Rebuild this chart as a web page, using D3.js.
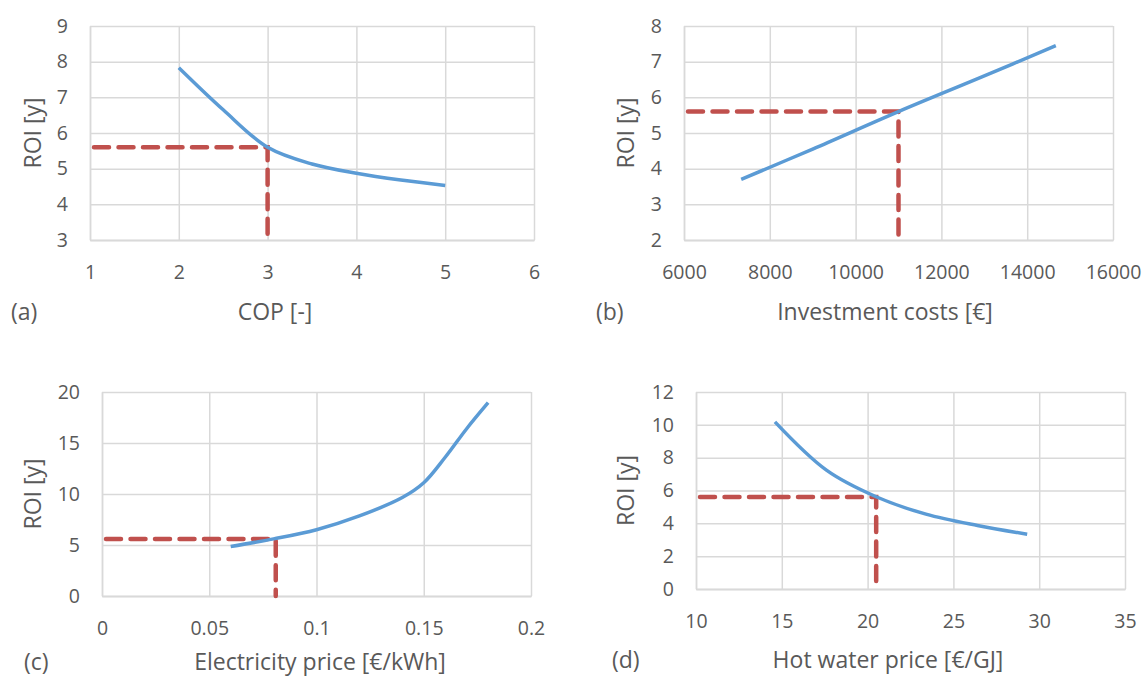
<!DOCTYPE html>
<html>
<head>
<meta charset="utf-8">
<script src="https://cdn.jsdelivr.net/npm/d3@7"></script>
<style>
body { margin: 0; background: #ffffff; }
text { font-family: "Open Sans", sans-serif; fill: #595959; }
</style>
</head>
<body>
<script>
// values
var copValues = [2, 2.5, 3, 3.5, 4, 4.5, 5];
var copRoi = [7.83, 6.65, 5.6, 5.13, 4.87, 4.68, 4.53];

var investValues = [7333, 9000, 11000, 13000, 14667];
var investRoi = [3.7, 4.55, 5.6, 6.6, 7.45];

var elecValues = [0.06, 0.08, 0.1, 0.12, 0.14, 0.15, 0.16, 0.17, 0.18];
var elecRoi = [4.85, 5.6, 6.5, 7.85, 9.65, 11.1, 13.6, 16.4, 18.95];

var waterValues = [14.6, 17.6, 20.5, 23.4, 26.4, 29.3];
var waterRoi = [10.18, 7.24, 5.62, 4.56, 3.87, 3.34];

var refRoi = 5.6;
var refCop = 3;
var refInvest = 11000;
var refElec = 0.081;
var refWater = 20.5;

var copTicks = [1, 2, 3, 4, 5, 6];
var copRoiTicks = [3, 4, 5, 6, 7, 8, 9];
var investTicks = [6000, 8000, 10000, 12000, 14000, 16000];
var investRoiTicks = [2, 3, 4, 5, 6, 7, 8];
var elecTicks = [0, 0.05, 0.1, 0.15, 0.2];
var elecRoiTicks = [0, 5, 10, 15, 20];
var waterTicks = [10, 15, 20, 25, 30, 35];
var waterRoiTicks = [0, 2, 4, 6, 8, 10, 12];

var svg = d3.select("body").append("svg")
    .attr("width", 1146)
    .attr("height", 677);

var drawPanel = function(p)
{
    var box = p.box;
    var x = d3.scaleLinear()
        .domain([p.xTicks[0], p.xTicks[p.xTicks.length - 1]])
        .range([box.x0, box.x1]);
    var y = d3.scaleLinear()
        .domain([p.yTicks[0], p.yTicks[p.yTicks.length - 1]])
        .range([box.y1, box.y0]);

    var g = svg.append("g");

    var xAxis = g.append("g")
        .attr("transform", "translate(0," + box.y1 + ")")
        .call(d3.axisBottom(x)
            .tickValues(p.xTicks)
            .tickSize(-(box.y1 - box.y0))
            .tickSizeOuter(0)
            .tickFormat(function(d){ return d; }));

    var yAxis = g.append("g")
        .attr("transform", "translate(" + box.x0 + ",0)")
        .call(d3.axisLeft(y)
            .tickValues(p.yTicks)
            .tickSize(-(box.x1 - box.x0))
            .tickSizeOuter(0)
            .tickPadding(22)
            .tickFormat(function(d){ return d; }));

    g.selectAll(".tick line").attr("stroke", "#d9d9d9").attr("stroke-width", 1.5);
    yAxis.select(".domain").attr("stroke", "#d9d9d9").attr("stroke-width", 1.5);
    xAxis.select(".domain").attr("stroke", "#bfbfbf").attr("stroke-width", 1.5);

    g.selectAll(".tick text")
        .attr("font-family", "Open Sans")
        .attr("font-size", 19.5)
        .attr("fill", "#595959");
    xAxis.selectAll(".tick text").attr("y", 32).attr("dy", "0.35em");

    // reference lines
    var ref = [[p.xTicks[0], p.refY], [p.refX, p.refY], [p.refX, p.yTicks[0]]];
    g.append("path")
        .datum(ref)
        .attr("d", d3.line().x(function(d){ return x(d[0]); }).y(function(d){ return y(d[1]); }))
        .attr("fill", "none")
        .attr("stroke", "#c0504d")
        .attr("stroke-width", 4.5)
        .attr("stroke-linecap", "round")
        .attr("stroke-dasharray", "15 9.5")
        .attr("stroke-dashoffset", -4);

    var points = p.xs.map(function(v, i){ return [v, p.ys[i]]; });
    g.append("path")
        .datum(points)
        .attr("d", d3.line()
            .x(function(d){ return x(d[0]); })
            .y(function(d){ return y(d[1]); })
            .curve(d3.curveCatmullRom.alpha(0.5)))
        .attr("fill", "none")
        .attr("stroke", "#5b9bd5")
        .attr("stroke-width", 3.5);

    g.append("text")
        .attr("x", p.xTitle[0])
        .attr("y", p.xTitle[1])
        .attr("dy", "0.35em")
        .attr("text-anchor", "middle")
        .attr("font-size", 23)
        .text(p.xLabel);

    var midY = (box.y0 + box.y1) / 2;
    g.append("text")
        .attr("transform", "translate(" + p.roiX + "," + midY + ") rotate(-90)")
        .attr("dy", "0.35em")
        .attr("text-anchor", "middle")
        .attr("font-size", 23)
        .text("ROI [y]");

    g.append("text")
        .attr("x", p.tag[0])
        .attr("y", p.tag[1])
        .attr("dy", "0.35em")
        .attr("font-size", 23)
        .text(p.tagText);
}

drawPanel({
    box: {x0: 90, x1: 534, y0: 26, y1: 240},
    xTicks: copTicks, yTicks: copRoiTicks,
    xs: copValues, ys: copRoi,
    refX: refCop, refY: refRoi,
    xLabel: "COP [-]", xTitle: [275, 312],
    roiX: 33, tag: [11, 312], tagText: "(a)"
});

drawPanel({
    box: {x0: 684, x1: 1113, y0: 26, y1: 240},
    xTicks: investTicks, yTicks: investRoiTicks,
    xs: investValues, ys: investRoi,
    refX: refInvest, refY: refRoi,
    xLabel: "Investment costs [€]", xTitle: [885, 312],
    roiX: 626, tag: [596, 312], tagText: "(b)"
});

drawPanel({
    box: {x0: 102, x1: 531, y0: 392, y1: 596},
    xTicks: elecTicks, yTicks: elecRoiTicks,
    xs: elecValues, ys: elecRoi,
    refX: refElec, refY: refRoi,
    xLabel: "Electricity price [€/kWh]", xTitle: [320, 662],
    roiX: 33, tag: [24, 662], tagText: "(c)"
});

drawPanel({
    box: {x0: 696, x1: 1125, y0: 392, y1: 589},
    xTicks: waterTicks, yTicks: waterRoiTicks,
    xs: waterValues, ys: waterRoi,
    refX: refWater, refY: refRoi,
    xLabel: "Hot water price [€/GJ]", xTitle: [888, 660],
    roiX: 626, tag: [612, 660], tagText: "(d)"
});
</script>
</body>
</html>
